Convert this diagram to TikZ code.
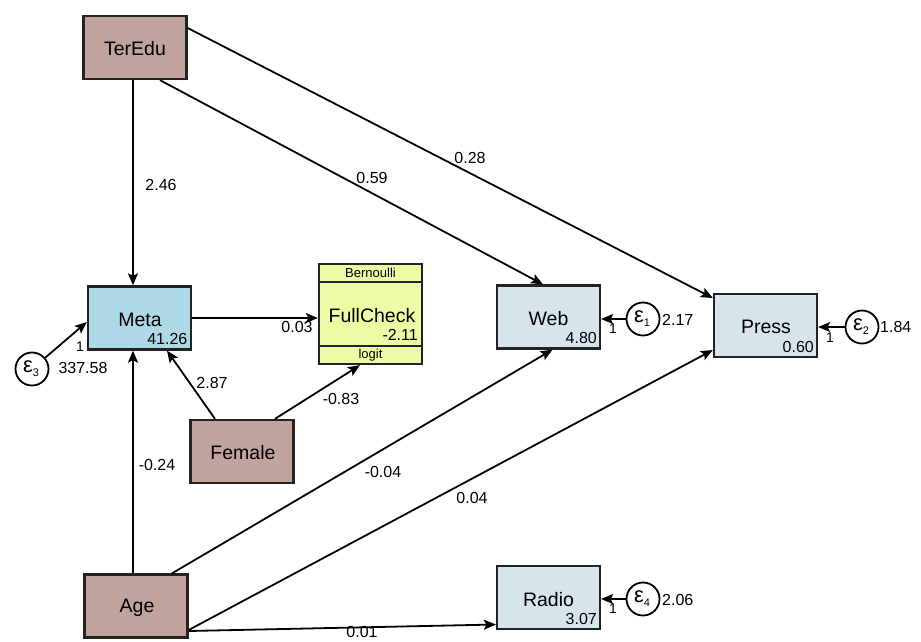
\documentclass[tikz,border=0pt]{standalone}
\usepackage{fontspec}
\setmainfont{Liberation Sans}
\usetikzlibrary{arrows.meta,calc}
\definecolor{exobrown}{RGB}{192,163,156}
\definecolor{metablue}{RGB}{173,216,230}
\definecolor{endolight}{RGB}{214,228,236}
\definecolor{fcyellow}{RGB}{238,251,165}
\definecolor{boxline}{RGB}{35,35,35}
\tikzset{
  box/.style={draw=boxline, line width=2.3pt, minimum width=103pt, minimum height=63pt, inner sep=0pt},
  exo/.style={box, fill=exobrown},
  endo/.style={box, fill=endolight},
  errc/.style={draw=black, line width=1.8pt, circle, minimum size=33pt, inner sep=0pt},
  lab/.style={font=\fontsize{19.5}{20}\selectfont, inner sep=0pt},
  eps/.style={font=\fontsize{22}{22}\selectfont, inner sep=0pt},
  num/.style={font=\fontsize{16}{17}\selectfont, inner sep=0pt},
  tiny/.style={font=\fontsize{13}{14}\selectfont, inner sep=0pt},
  one/.style={font=\fontsize{14}{14}\selectfont, inner sep=0pt},
  conn/.style={line width=1.8pt, -{Stealth[length=12pt,width=10pt,inset=2.5pt]}},
}
\newcommand{\epsl}[1]{ε\raisebox{-4pt}{\fontsize{11}{11}\selectfont #1}}
\begin{document}
\begin{tikzpicture}[x=1pt,y=-1pt]
\useasboundingbox (0,0) rectangle (921,641);

% boxes
\node[exo] (teredu) at (135,47.5) {};
\node[lab] (teredut) at (135,49) {TerEdu};
\node[box, fill=metablue] (meta) at (139.5,318) {};
\node[lab] (metat) at (140,320) {Meta};
\node[num, anchor=east] (metav) at (187.5,339) {41.26};

\node[box, fill=fcyellow, minimum height=100pt] (fc) at (370.5,314) {};
\draw[draw=boxline, line width=1.6pt] ($(fc.north west)+(0,19)$) coordinate (fca) -- (fca -| fc.east);
\draw[draw=boxline, line width=1.6pt] ($(fc.south west)+(0,-19)$) coordinate (fcb) -- (fcb -| fc.east);
\node[tiny] (bern) at (370.5,272.5) {Bernoulli};
\node[tiny] (logit) at (370.5,355) {logit};
\node[lab] (fct) at (372,316) {FullCheck};
\node[num, anchor=east] (fcv) at (418,335) {-2.11};

\node[endo] (web) at (548.5,317) {};
\node[lab] (webt) at (548.5,319) {Web};
\node[num, anchor=east] (webv) at (597,338) {4.80};

\node[endo] (press) at (765.5,325.5) {};
\node[lab] (presst) at (766,327) {Press};
\node[num, anchor=east] (pressv) at (814,347) {0.60};

\node[exo] (female) at (242,451.5) {};
\node[lab] (femalet) at (243,453) {Female};

\node[exo] (age) at (136,606) {};
\node[lab] (aget) at (137,608) {Age};

\node[endo] (radio) at (548.5,597.5) {};
\node[lab] (radiot) at (548.5,600) {Radio};
\node[num, anchor=east] (radiov) at (597,619) {3.07};

% error terms
\node[errc] (e1) at (643,319) {};
\node[eps] (e1t) at (642,319) {\epsl{1}};
\node[errc] (e2) at (862,327) {};
\node[eps] (e2t) at (861,327) {\epsl{2}};
\node[errc] (e3) at (32,369) {};
\node[eps] (e3t) at (31,369) {\epsl{3}};
\node[errc] (e4) at (643,599) {};
\node[eps] (e4t) at (642,599) {\epsl{4}};

% connectors
\draw[conn] ($(teredu.south)+(-2,0)$) -- ($(meta.north)+(-6.5,0)$);
\draw[conn] ($(teredu.south)+(25,0)$) -- ($(web.north)+(-5.5,0)$);
\draw[conn] ($(teredu.east)+(0,-19.5)$) -- ($(press.west)+(0,-27.5)$);
\draw[conn] (meta.east) -- (meta.east -| fc.west);
\draw[conn] (e3) -- ($(meta.west)+(0,4)$);
\draw[conn] ($(female.north)+(-27,0)$) -- ($(meta.south)+(27.5,0)$);
\draw[conn] ($(female.north)+(33,0)$) -- ($(fc.south)+(-10.5,0)$);
\draw[conn] ($(age.north)+(-3,0)$) -- ($(meta.south)+(-6.5,0)$);
\draw[conn] ($(age.north)+(36,0)$) -- ($(web.south)+(4,0)$);
\draw[conn] ($(age.east)+(0,24)$) -- ($(press.west)+(0,24.5)$);
\draw[conn] ($(age.east)+(0,25)$) -- ($(radio.west)+(0,27)$);
\draw[conn] (e1) -- (e1 -| web.east);
\draw[conn] (e2) -- (e2 -| press.east);
\draw[conn] (e4) -- (e4 -| radio.east);

% path labels
\node[num] (l246) at (161,185) {2.46};
\node[num] (l059) at (372,178) {0.59};
\node[num] (l028) at (470,158) {0.28};
\node[num] (l003) at (297,327) {0.03};
\node[num] (l287) at (212,383) {2.87};
\node[num] (l083) at (341,399) {-0.83};
\node[num] (l024) at (157,465) {-0.24};
\node[num] (l004a) at (383,472) {-0.04};
\node[num] (l004b) at (472,498) {0.04};
\node[num] (l001) at (362,631.5) {0.01};

% error labels
\node[one] (o3) at (80,347) {1};
\node[num] (v3) at (83,368) {337.58};
\node[one] (o1) at (613,329) {1};
\node[num, anchor=west] (v1) at (662,320) {2.17};
\node[one] (o2) at (830,338) {1};
\node[num, anchor=west] (v2) at (880,327) {1.84};
\node[one] (o4) at (613,609) {1};
\node[num, anchor=west] (v4) at (662,600) {2.06};
\end{tikzpicture}
\end{document}
